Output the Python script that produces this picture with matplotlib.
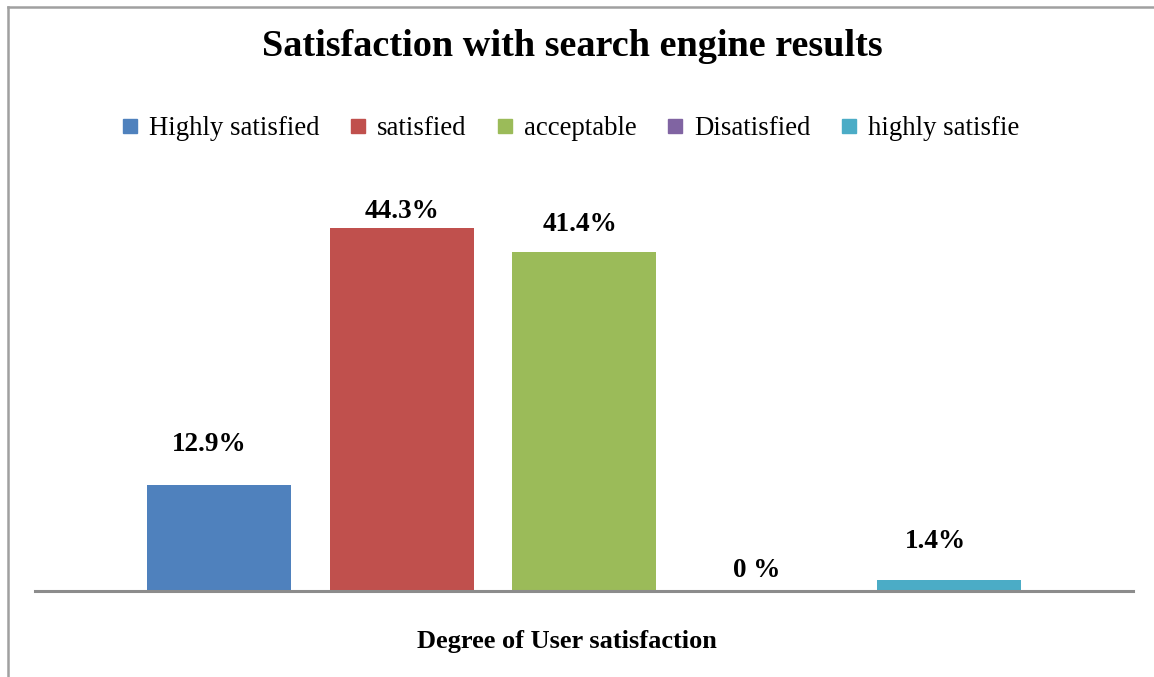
import numpy as np
import matplotlib
matplotlib.use("Agg")
import matplotlib.pyplot as plt
from matplotlib.lines import Line2D

plt.rcParams['font.family'] = ['Liberation Serif', 'DejaVu Serif']

# data
series = ['Highly satisfied', 'satisfied', 'acceptable', 'Disatisfied', 'highly satisfie']
values = [12.9, 44.3, 41.4, 0.0, 1.4]
value_labels = ['12.9%', '44.3%', '41.4%', '0 %', '1.4%']
axis_title = 'Degree of User satisfaction'
chart_title = 'Satisfaction with search engine results'

colors = ['#4F81BD', '#C0504D', '#9BBB59', '#8064A2', '#4BACC6']
# labels were moved by hand in the source: baseline offset (pt) and x shift (bar units)
label_dy = [24.5, 7, 15, 10, 23]
label_dx = [-0.055, 0.0, -0.02, -0.052, -0.074]

fig = plt.figure(figsize=(11.54, 6.77), dpi=100)
ax = fig.add_axes([0.0303, 0.127, 0.9515, 0.6056])

x = np.arange(len(values))
bars = ax.bar(x, values, width=0.79, color=colors, zorder=2)

for i, (b, lab) in enumerate(zip(bars, value_labels)):
    ax.annotate(lab, (b.get_x() + b.get_width() / 2 + label_dx[i], b.get_height()),
                xytext=(0, label_dy[i]), textcoords='offset points',
                ha='center', va='baseline', fontsize=19.5, fontweight='bold')

ax.set_xlim(-1.01, 5.01)
ax.set_ylim(0, 50)
for s in ['top', 'right', 'left']:
    ax.spines[s].set_visible(False)
ax.spines['bottom'].set_color('#8c8c8c')
ax.spines['bottom'].set_linewidth(2.2)
ax.set_xticks([])
ax.set_yticks([])
ax.set_xlabel(axis_title, fontsize=19, fontweight='bold', va='center')
ax.xaxis.set_label_coords(0.4845, -0.122)

fig.text(0.496, 0.931, chart_title, ha='center', va='center',
         fontsize=27.5, fontweight='bold')

handles = [Line2D([], [], marker='s', linestyle='none', markersize=9.5,
                  markerfacecolor=c, markeredgecolor=c) for c in colors]
fig.legend(handles, series, loc='center', bbox_to_anchor=(0.495, 0.81),
           ncol=5, frameon=False, fontsize=19.3, handlelength=0.5,
           handletextpad=0.45, columnspacing=1.2)

# outer chart border (left and top edges visible)
fig.add_artist(Line2D([8 / 1154, 8 / 1154], [0, 1 - 7 / 677],
                      transform=fig.transFigure, color='#a0a0a0', lw=1.8))
fig.add_artist(Line2D([8 / 1154, 1], [1 - 7 / 677, 1 - 7 / 677],
                      transform=fig.transFigure, color='#a0a0a0', lw=1.8))

fig.savefig('out.png', dpi=100)
